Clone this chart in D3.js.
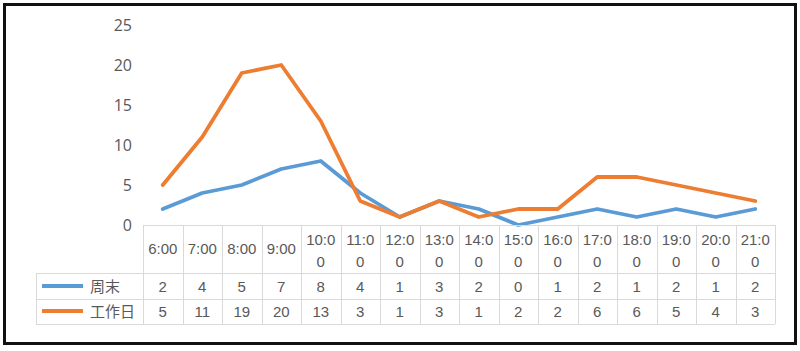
<!DOCTYPE html>
<html><head><meta charset="utf-8">
<script src="https://cdn.jsdelivr.net/npm/d3@7"></script>
<style>
html,body{margin:0;padding:0;background:#fff;}
svg{display:block;}
</style></head>
<body>
<svg id="chart" width="800" height="351"></svg>
<script>
const categories = ["6:00","7:00","8:00","9:00","10:00","11:00","12:00","13:00","14:00","15:00","16:00","17:00","18:00","19:00","20:00","21:00"];
const seriesNames = ["周末","工作日"];
const weekendValues = [2,4,5,7,8,4,1,3,2,0,1,2,1,2,1,2];
const workdayValues = [5,11,19,20,13,3,1,3,1,2,2,6,6,5,4,3];
const yTicks = [0,5,10,15,20,25];
const colors = ["#5B9BD5","#ED7D31"];

(function(){
const svg = d3.select("#chart");
const pLeft = 143, pRight = 775, pTop = 25, pBottom = 225;
const x = d3.scaleBand().domain(categories).range([pLeft, pRight]).padding(0);
const y = d3.scaleLinear().domain([0,25]).range([pBottom, pTop]);

// Y axis
const yAxis = d3.axisLeft(y).tickValues(yTicks).tickSize(0).tickPadding(11);
const ga = svg.append("g").attr("transform", `translate(${pLeft},0)`).call(yAxis);
ga.select(".domain").remove();
ga.selectAll("text").attr("font-family","'Open Sans', 'Noto Sans', sans-serif").attr("font-size",16).attr("fill","#595959");

// lines
const series = [weekendValues, workdayValues];
const line = d3.line().x((d,i)=>x(categories[i]) + x.bandwidth()/2).y(d=>y(d));
series.forEach((vals,k)=>{
  svg.append("path").datum(vals).attr("d",line).attr("fill","none")
    .attr("stroke",colors[k]).attr("stroke-width",3.8).attr("stroke-linejoin","round").attr("stroke-linecap","round");
});

// data table
const rowTop = 225, hdrBottom = 273, r2 = 299, r3 = 324, legLeft = 36;
const grid = svg.append("g").attr("stroke","#d9d9d9").attr("stroke-width",1).attr("fill","none");
grid.append("line").attr("x1",pLeft).attr("x2",pRight).attr("y1",rowTop+0.5).attr("y2",rowTop+0.5);
[hdrBottom,r2,r3].forEach(yy=>grid.append("line").attr("x1",legLeft).attr("x2",pRight).attr("y1",yy+0.5).attr("y2",yy+0.5));
grid.append("line").attr("x1",legLeft+0.5).attr("x2",legLeft+0.5).attr("y1",hdrBottom).attr("y2",r3);
categories.forEach(c=>{
  const xx = Math.round(x(c))+0.5;
  grid.append("line").attr("x1",xx).attr("x2",xx).attr("y1",rowTop).attr("y2",r3);
});
grid.append("line").attr("x1",pRight+0.5).attr("x2",pRight+0.5).attr("y1",rowTop).attr("y2",r3);

const tf = "'Liberation Sans', Arial, sans-serif";
const hdr = svg.append("g").attr("font-family",tf).attr("font-size",15).attr("fill","#595959").attr("text-anchor","middle");
categories.forEach(c=>{
  const cx = x(c)+x.bandwidth()/2;
  if (c.length <= 4) {
    hdr.append("text").attr("x",cx).attr("y",254).text(c);
  } else {
    hdr.append("text").attr("x",cx).attr("y",245).text(c.slice(0,4));
    hdr.append("text").attr("x",cx).attr("y",267).text(c.slice(4));
  }
});
series.forEach((vals,k)=>{
  const yy = k===0 ? 292 : 317;
  vals.forEach((v,i)=>{
    hdr.append("text").attr("x",x(categories[i])+x.bandwidth()/2).attr("y",yy).text(v);
  });
  const ky = k===0 ? 286 : 311;
  svg.append("line").attr("x1",42).attr("x2",83).attr("y1",ky).attr("y2",ky)
    .attr("stroke",colors[k]).attr("stroke-width",3.8);
  svg.append("text").attr("x",k===0?90:90).attr("y",yy).attr("font-family","'Noto Sans CJK SC', sans-serif")
    .attr("font-size",15).attr("fill","#595959").text(seriesNames[k]);
});

// outer border
svg.append("rect").attr("x",4.5).attr("y",4.5).attr("width",791).attr("height",339)
  .attr("fill","none").attr("stroke","#111").attr("stroke-width",3);
})();
</script>
</body></html>
